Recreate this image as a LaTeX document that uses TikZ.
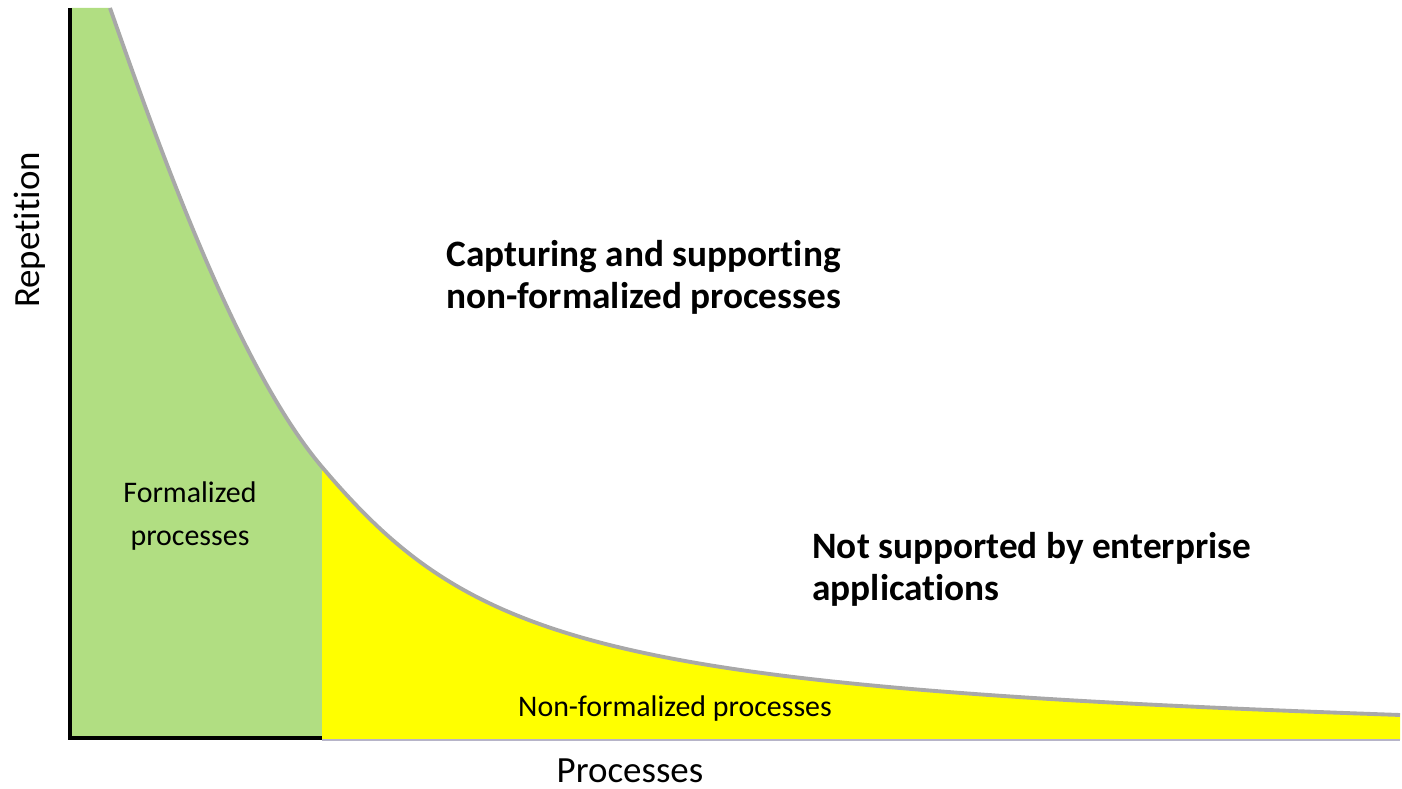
\documentclass[tikz,border=0pt]{standalone}
\usepackage{fontspec}
\setmainfont{Carlito}[Ligatures=NoCommon]
\usepackage{tikz}
\usetikzlibrary{positioning, calc, backgrounds}
\definecolor{verdecito}{RGB}{177,222,130}
\definecolor{amarillo}{RGB}{255,255,0}
\definecolor{grisecito}{RGB}{168,168,168}
\definecolor{lilita}{RGB}{182,180,200}
\newcommand{\curvepath}{(110,8) .. controls (165,165) and (240,370) .. (322,467) .. controls (472,644) and (600,687) .. (1400,715)}
\newcommand{\labelfont}{\fontsize{10.5}{12}\selectfont}
\newcommand{\areafont}{\fontsize{8.5}{10.6}\selectfont}
\newcommand{\boldfont}{\fontsize{10.6}{12.8}\selectfont\bfseries}
\tikzset{>=stealth}

\begin{document}
\begin{tikzpicture}[x=0.01cm, y=-0.01cm]
			\useasboundingbox (0,0) rectangle (1402,789);

			% areas under the curve
			\begin{scope}
				\clip (72,0) rectangle (322,745);
				\fill [verdecito] (72,740) -- (72,8) -- \curvepath -- (1400,740) -- cycle;
			\end{scope}
			\begin{scope}
				\clip (322,0) rectangle (1402,745);
				\fill [amarillo] (72,740) -- (72,8) -- \curvepath -- (1400,740) -- cycle;
			\end{scope}
			\draw [grisecito, line width=1.1pt] \curvepath;
			\draw [lilita, line width=0.3pt] (322,740) -- (1400,740);

			\draw [line width=1.15pt] (70,8) -- (70,738) -- (322,738);

			\node [rotate=90] (rep) at (30,230) {\labelfont Repetition};
			\node (proc) at (630,771) {\labelfont Processes};

			\node [align=center] (formal) at (190,516) {\areafont Formalized\\ \areafont processes};
			\node (nonformal) at (675,709) {\areafont Non-formalized processes};

			\node [align=left, anchor=west] (capture) at (434,277) {\boldfont Capturing and supporting\\ \boldfont non-formalized processes};
			\node [align=left, anchor=west] (notsup) at (800,569) {\boldfont Not supported by enterprise\\ \boldfont applications};
		\end{tikzpicture}
\end{document}
